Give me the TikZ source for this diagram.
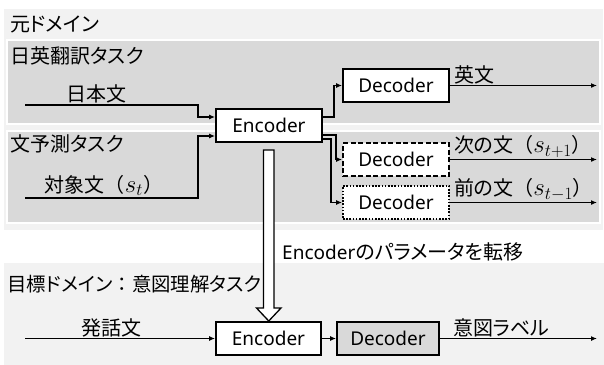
\documentclass[tikz,border=0pt]{standalone}
\usepackage{fontspec}
\setmainfont{Noto Sans CJK JP}[RawFeature={+palt}]
\newfontfamily\jpfull{Noto Sans CJK JP}
\newfontfamily\latinfont{Noto Sans}
\usetikzlibrary{arrows.meta,calc}

\definecolor{panelout}{HTML}{F2F2F2}
\definecolor{panelin}{HTML}{D9D9D9}

% full-width brackets and colon, italic symbol
\newcommand{\lpar}{{\jpfull （}}
\newcommand{\rpar}{{\jpfull ）}}
\newcommand{\fcolon}{{\jpfull ：}}
\newcommand{\sym}[1]{{\fontsize{24}{28}\selectfont$#1$}}

\tikzset{
  jp/.style={font=\fontsize{20}{24}\selectfont, inner sep=1pt},
  blockbox/.style={draw=black, line width=1.8pt, fill=white,
    minimum width=106pt, minimum height=33pt, inner sep=0pt,
    font=\fontsize{19}{22}\selectfont\latinfont},
  conn/.style={line width=1.4pt, -{Latex[length=6pt,width=5pt]}},
  outerpanel/.style={fill=panelout, draw=white, line width=1pt},
  innerpanel/.style={fill=panelin, draw=white, line width=1.5pt},
}

\begin{document}
\begin{tikzpicture}[x=1pt,y=-1pt]
\useasboundingbox (0,0) rectangle (604,364);
\fill[white] (0,0) rectangle (604,364);

% source domain and its two task panels
\path[outerpanel] (3,8) rectangle (603,230);
\path[innerpanel] (7,40) rectangle (600,124);
\path[innerpanel] (7,131) rectangle (600,223);
% target domain panel
\path[outerpanel] (3,262) rectangle (605,366);

% panel titles
\node[jp, anchor=west] (tsrc) at (9,24) {元ドメイン};
\node[jp, anchor=west] (ttrans) at (9,56) {日英翻訳タスク};
\node[jp, anchor=west] (tpred) at (9,144) {文予測タスク};
\node[jp, anchor=west, font=\fontsize{19.4}{23}\selectfont] (ttgt) at (6,284)
  {目標ドメイン\fcolon 意図理解タスク};

% source encoder and decoders
\node[blockbox] (enc1) at (269,125.5) {Encoder};
\node[blockbox] (dec1) at (396,85.5) {Decoder};
\node[blockbox, dashed, dash pattern=on 5pt off 2.5pt] (dec2) at (396,159.5) {Decoder};
\node[blockbox, dash pattern=on 1.6pt off 1.6pt] (dec3) at (396,202.5) {Decoder};

% target encoder and decoder
\node[blockbox, minimum width=105pt] (enc2) at (268.5,338.5) {Encoder};
\node[blockbox, fill=panelin, minimum width=102pt] (dec4) at (388,338.5) {Decoder};

% free ends of the input and output lines
\coordinate (inA) at (25,105);
\coordinate (inB) at (25,198);
\coordinate (inC) at (25,338.5);
\coordinate (outA) at (597,85.5);
\coordinate (outB) at (597,159.5);
\coordinate (outC) at (597,202.5);
\coordinate (outD) at (597,338.5);

% inputs of the source encoder
\draw[conn] (inA) -- (198,105) |- ([yshift=8.5pt]enc1.west);
\draw[conn] (inB) -- (198,198) |- ([yshift=-10.5pt]enc1.west);
\node[jp, anchor=south] (lblja) at (96,104) {日本文};
\node[jp, anchor=south] (lbltgt) at (104,197) {対象文\lpar\sym{s_t}\rpar};

% encoder to decoders
\draw[conn] ([yshift=8.5pt]enc1.east) -- ++(11,0) |- (dec1.west);
\draw[conn] ([yshift=-9.5pt]enc1.east) -- ++(13,0) |- (dec2.west);
\draw[conn] ([yshift=-13.5pt]enc1.east) -- ++(8,0) |- (dec3.west);

% decoder outputs
\draw[conn] (dec1.east) -- (outA);
\draw[conn] (dec2.east) -- (outB);
\draw[conn] (dec3.east) -- (outC);
\node[jp, anchor=south west] (lblen) at (453,85) {英文};
\node[jp, anchor=south west] (lblnext) at (453,159) {次の文\lpar\sym{s_{t+1}}\rpar};
\node[jp, anchor=south west] (lblprev) at (453,202) {前の文\lpar\sym{s_{t-1}}\rpar};

% parameter transfer (hollow block arrow)
\draw[line width=1.3pt, fill=white, line join=miter]
  (263.5,150) -- (274,150) -- (274,308) -- (281,308) -- (268.75,321)
  -- (256.5,308) -- (263.5,308) -- cycle;
\node[jp, anchor=west] (lbltransfer) at (281,252)
  {{\fontsize{19}{22}\selectfont\latinfont Encoder}のパラメータを転移};

% target flow
\draw[conn] (inC) -- (enc2.west);
\draw[conn] (enc2.east) -- (dec4.west);
\draw[conn] (dec4.east) -- (outD);
\node[jp, anchor=south] (lblutt) at (111,338) {発話文};
\node[jp, anchor=south west] (lblintent) at (452,338) {意図ラベル};
\end{tikzpicture}
\end{document}
